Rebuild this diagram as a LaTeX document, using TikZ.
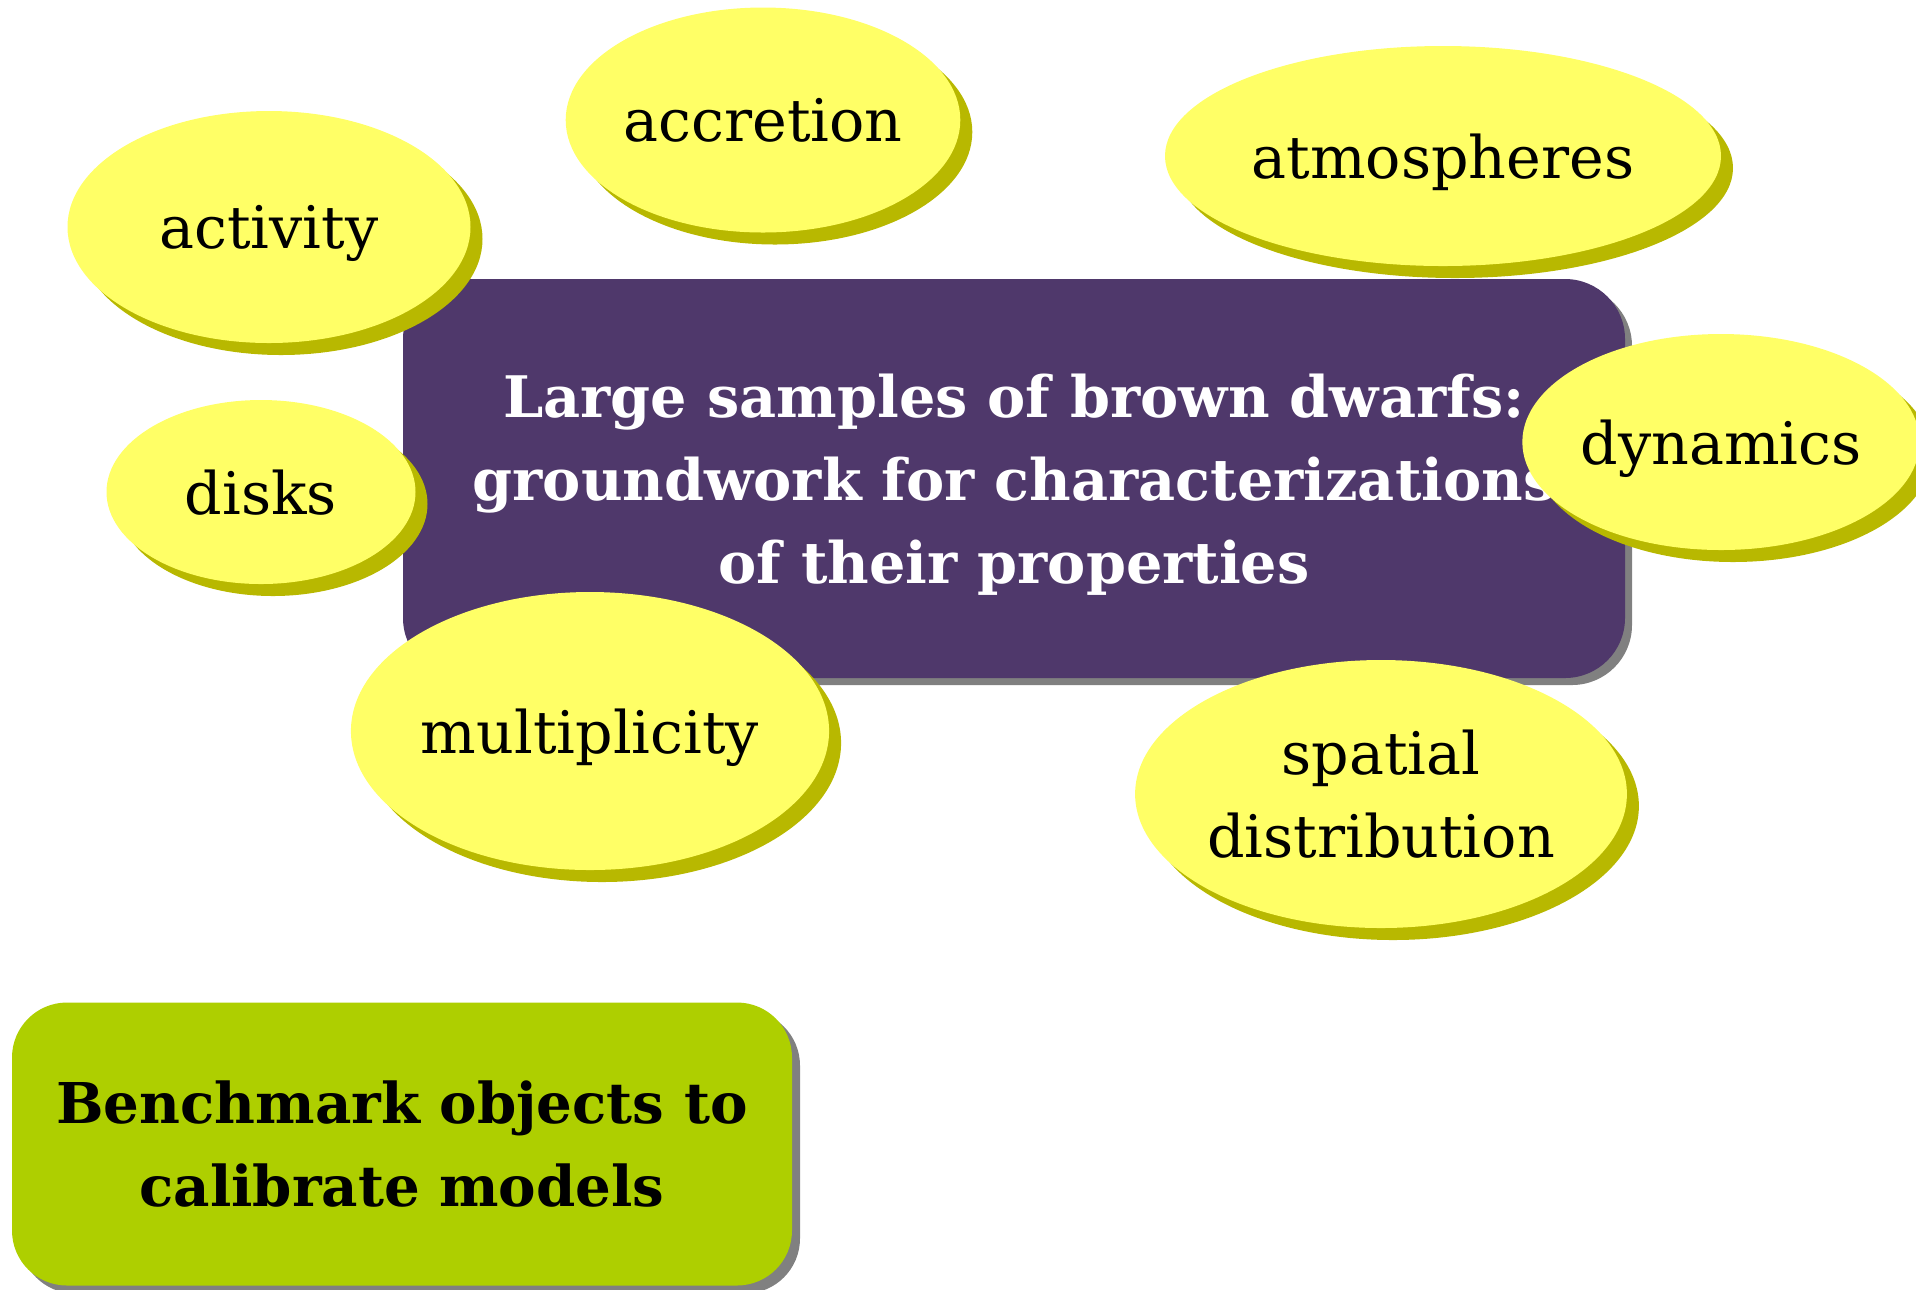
\documentclass[tikz,border=0pt]{standalone}
\usepackage{fontspec}
\setmainfont{DejaVu Serif}
\usetikzlibrary{shapes.geometric,shadows}

\definecolor{bdpurple}{HTML}{4F386B}
\definecolor{bdyellow}{HTML}{FFFF66}
\definecolor{bdolive}{HTML}{B8B800}
\definecolor{bdgreen}{HTML}{AECF00}
\definecolor{bdgray}{HTML}{808080}

\begin{document}
\begin{tikzpicture}[
    every node/.style={align=center, text depth=0pt},
    bubble/.style={ellipse, fill=bdyellow, inner sep=0pt,
                   font=\fontsize{16.7}{23.6}\selectfont,
                   drop shadow={shadow xshift=0.12cm, shadow yshift=-0.12cm,
                                fill=bdolive, opacity=1}},
    topicbox/.style={rectangle, rounded corners=0.6cm, fill=bdpurple, text=white,
                     font=\fontsize{16.3}{23.6}\selectfont\bfseries,
                     drop shadow={shadow xshift=0.07cm, shadow yshift=-0.07cm,
                                  fill=bdgray, opacity=1}},
    benchbox/.style={rectangle, rounded corners=0.55cm, fill=bdgreen, text=black,
                     font=\fontsize{16.0}{23.6}\selectfont\bfseries,
                     drop shadow={shadow xshift=0.08cm, shadow yshift=-0.08cm,
                                  fill=bdgray, opacity=1}}
]
\useasboundingbox (0,0) rectangle (19.16,-12.89);

% central topic
\node[topicbox, minimum width=12.22cm, minimum height=3.99cm] (main) at (10.14,-4.785)
    {Large samples of brown dwarfs:\\ groundwork for characterizations\\ of their properties};

% properties around it
\node[bubble, minimum width=4.03cm, minimum height=2.32cm] (activity) at (2.69,-2.27) {activity};
\node[bubble, minimum width=3.78cm, minimum height=2.25cm] (accretion) at (7.63,-1.20) {accretion};
\node[bubble, minimum width=5.56cm, minimum height=2.20cm] (atmos) at (14.43,-1.56) {atmospheres};
\node[bubble, minimum width=3.09cm, minimum height=1.84cm] (disks) at (2.61,-4.92) {disks};
\node[bubble, minimum width=3.80cm, minimum height=2.16cm] (dynamics) at (17.21,-4.42) {dynamics};
\node[bubble, minimum width=4.69cm, minimum height=2.78cm] (multi) at (5.90,-7.31) {multiplicity};
\node[bubble, minimum width=4.90cm, minimum height=2.68cm] (spatial) at (13.81,-7.94)
    {spatial\\ distribution};

% benchmarks
\node[benchbox, minimum width=7.80cm, minimum height=2.83cm] (bench) at (4.02,-11.44)
    {Benchmark objects to\\ calibrate models};
\end{tikzpicture}
\end{document}
